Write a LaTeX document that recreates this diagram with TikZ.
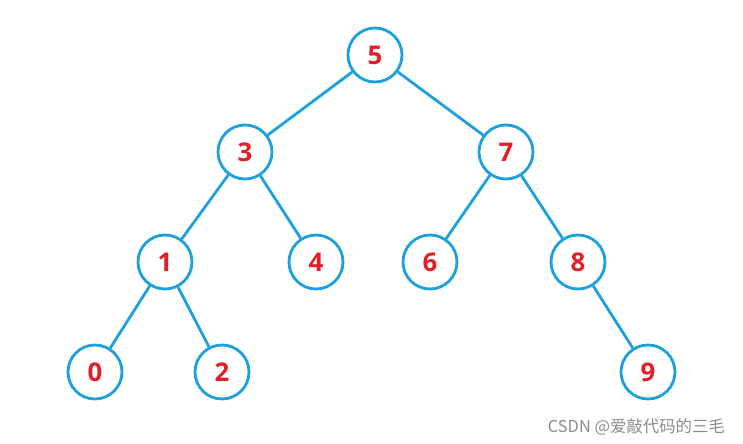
\documentclass[tikz,border=0pt]{standalone}
\usepackage{fontspec}
\setmainfont{Open Sans}
\newfontfamily\cjk{Noto Sans CJK SC}
\usetikzlibrary{positioning}

\begin{document}
\begin{tikzpicture}[x=0.03cm, y=-0.03cm]
		% Colores
		\definecolor{treeblue}{RGB}{30, 160, 220} % Azul de los nodos
		\definecolor{keyred}{RGB}{228, 30, 38} % Rojo de las claves
		\definecolor{markgray}{RGB}{140, 140, 140}
		
		% Marco de la imagen
		\useasboundingbox (0,0) rectangle (743,444);
		
		% --- Estilos ---
		\tikzset{treenode/.style={circle, draw=treeblue, line width=2.4pt, fill=white, minimum size=1.62cm, inner sep=0pt, text=keyred, font=\bfseries\fontsize{22}{24}\selectfont}}
		\tikzset{treeedge/.style={draw=treeblue, line width=2.4pt}}
		
		% --- Nodos ---
		\node[treenode] (n5) at (375, 55) {5};
		\node[treenode] (n3) at (245, 152) {3};
		\node[treenode] (n7) at (506, 152) {7};
		\node[treenode] (n1) at (165, 262) {1};
		\node[treenode] (n4) at (316, 262) {4};
		\node[treenode] (n6) at (430, 262) {6};
		\node[treenode] (n8) at (578, 262) {8};
		\node[treenode] (n0) at (95, 372) {0};
		\node[treenode] (n2) at (222, 372) {2};
		\node[treenode] (n9) at (648, 372) {9};
		
		% --- Aristas ---
		\draw[treeedge] (n5) -- (n3);
		\draw[treeedge] (n5) -- (n7);
		\draw[treeedge] (n3) -- (n1);
		\draw[treeedge] (n3) -- (n4);
		\draw[treeedge] (n7) -- (n6);
		\draw[treeedge] (n7) -- (n8);
		\draw[treeedge] (n1) -- (n0);
		\draw[treeedge] (n1) -- (n2);
		\draw[treeedge] (n8) -- (n9);
		
		% --- Marca de agua ---
		\node[anchor=east, text=markgray, font=\cjk\fontsize{14}{16}\selectfont] (mark) at (729, 427) {CSDN @爱敲代码的三毛};
		
	\end{tikzpicture}
\end{document}
